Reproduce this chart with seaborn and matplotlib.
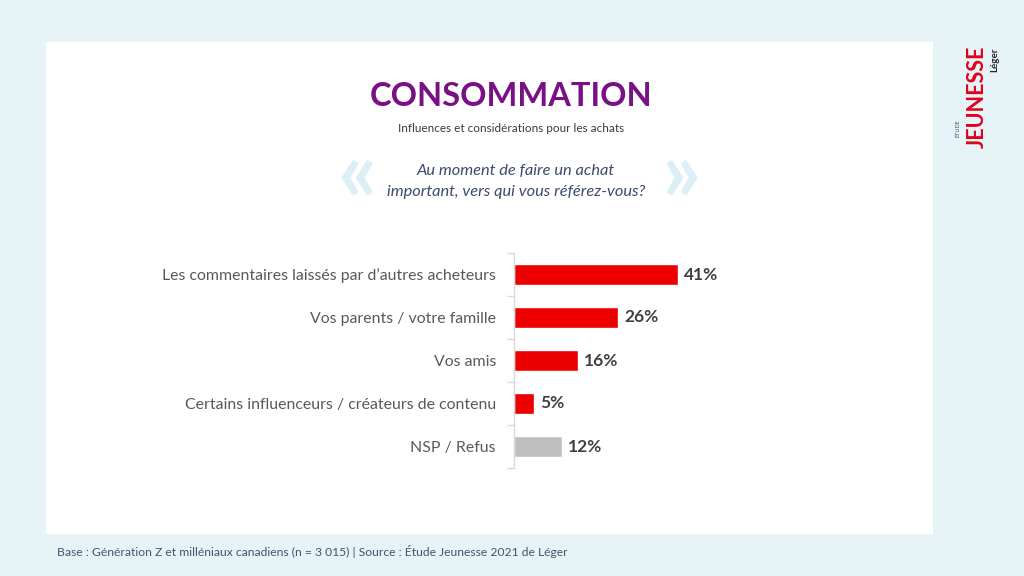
import matplotlib
matplotlib.use("Agg")
import matplotlib.pyplot as plt
import seaborn as sns
import pandas as pd
from matplotlib.patches import Rectangle

categories = ["Les commentaires laissés par d’autres acheteurs",
              "Vos parents / votre famille",
              "Vos amis",
              "Certains influenceurs / créateurs de contenu",
              "NSP / Refus"]
values = [41, 26, 16, 5, 12]
bar_colors = ["#ee0000", "#ee0000", "#ee0000", "#ee0000", "#bfbfbf"]

sns.set_theme(style="white")
plt.rcParams['font.family'] = ['Lato', 'DejaVu Sans']

fig = plt.figure(figsize=(10.24, 5.76), dpi=100)
fig.patch.set_facecolor("#e6f4f8")

# white panel
fig.patches.append(Rectangle((46/1024, 1-534/576), (933-46)/1024, (534-42)/576,
                             transform=fig.transFigure, facecolor="white",
                             edgecolor="none", zorder=-5))

ax = fig.add_axes([514/1024, 1-468/576, 400/1024, (468-253)/576])
ax.set_zorder(2)
ax.set_facecolor("none")
df = pd.DataFrame({"cat": categories, "val": values})
sns.barplot(data=df, x="val", y="cat", hue="cat", palette=bar_colors,
            legend=False, width=0.5, ax=ax, saturation=1)
ax.set_xlim(0, 100)
ax.set_ylim(4.5, -0.5)
ax.set_xlabel("")
ax.set_ylabel("")
ax.set_xticks([])
for s in ["top", "right", "bottom"]:
    ax.spines[s].set_visible(False)
ax.spines["left"].set_color("#d9d9d9")
ax.spines["left"].set_linewidth(1)
ax.set_yticks(range(len(categories)))
ax.set_yticklabels(categories, fontsize=11.4, color="#595959")
ax.tick_params(axis="y", length=0, pad=13)
# minor ticks at category boundaries
ax.set_yticks([i + 0.5 for i in range(-1, len(categories))], minor=True)
ax.tick_params(axis="y", which="minor", length=5, color="#d9d9d9", width=1, left=True)

for i, v in enumerate(values):
    ax.text(v + 1.6, i, f"{v}%", va="center", ha="left", fontsize=12.5,
            fontweight="bold", color="#404040")

# Titles
fig.text(511/1024, 1-97/576, "CONSOMMATION", ha="center", va="center",
         fontsize=23.5, fontweight="bold", color="#7a1085")
fig.text(511/1024, 1-129/576, "Influences et considérations pour les achats",
         ha="center", va="center", fontsize=8.5, color="#3a3a3a")
fig.text(516/1024, 1-171/576, "Au moment de faire un achat", ha="center", va="center",
         fontsize=11.8, style="italic", color="#3c4a6e")
fig.text(516/1024, 1-192/576, "important, vers qui vous référez-vous?", ha="center",
         va="center", fontsize=11.8, style="italic", color="#3c4a6e")
fig.text(357/1024, 1-176/576, "«", ha="center", va="center", fontsize=62,
         color="#dceff6", fontweight="bold")
fig.text(681/1024, 1-176/576, "»", ha="center", va="center", fontsize=62,
         color="#dceff6", fontweight="bold")

# footer
fig.text(57/1024, 1-552/576,
         "Base : Génération Z et milléniaux canadiens (n = 3 015) | Source : Étude Jeunesse 2021 de Léger",
         ha="left", va="center", fontsize=8.7, color="#44546a")

# logo-like text
fig.text(977/1024, 1-97/576, "JEUNESSE", rotation=90, ha="center", va="center",
         fontsize=15.5, fontweight="bold", color="#e3001b")
fig.text(958/1024, 1-128/576, "ÉTUDE", rotation=90, ha="center", va="center",
         fontsize=4, color="#3c4a6e")
fig.text(995/1024, 1-60/576, "Léger", rotation=90, ha="center", va="center",
         fontsize=7, fontweight="bold", color="#222222")

fig.savefig("out.png", dpi=100, facecolor=fig.get_facecolor())
